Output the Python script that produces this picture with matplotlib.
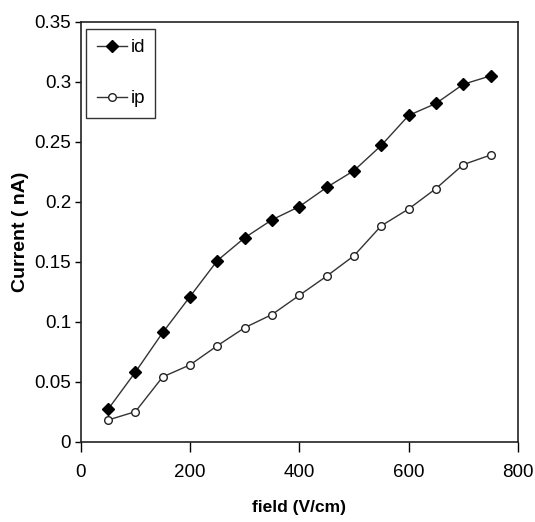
import matplotlib
matplotlib.use("Agg")
import matplotlib.pyplot as plt

# field (V/cm)
field = [50, 100, 150, 200, 250, 300, 350, 400, 450, 500, 550, 600, 650, 700, 750]
# currents (nA)
i_d = [0.027, 0.058, 0.091, 0.121, 0.151, 0.170, 0.185, 0.196, 0.212, 0.226,
       0.247, 0.272, 0.282, 0.298, 0.305]
i_p = [0.018, 0.025, 0.054, 0.064, 0.080, 0.095, 0.106, 0.122, 0.138, 0.155,
       0.180, 0.194, 0.211, 0.231, 0.239]

x_ticks = [0, 200, 400, 600, 800]
y_ticks = [0, 0.05, 0.1, 0.15, 0.2, 0.25, 0.3, 0.35]
y_tick_labels = ["0", "0.05", "0.1", "0.15", "0.2", "0.25", "0.3", "0.35"]

plt.rcParams["font.family"] = ["Liberation Sans", "DejaVu Sans"]

fig = plt.figure(figsize=(5.35, 5.22), dpi=100)
ax = fig.add_axes([0.151, 0.154, 0.817, 0.804])

ax.plot(field, i_d, color="#333333", lw=1.0, marker="D", markersize=6,
        markerfacecolor="black", markeredgecolor="black", label="id")
ax.plot(field, i_p, color="#333333", lw=1.0, marker="o", markersize=5.5,
        markerfacecolor="white", markeredgecolor="#222222", markeredgewidth=1.0,
        label="ip")

ax.set_xlim(0, 800)
ax.set_ylim(0, 0.35)
ax.set_xticks(x_ticks)
ax.set_xticklabels([str(t) for t in x_ticks])
ax.set_yticks(y_ticks)
ax.set_yticklabels(y_tick_labels)
ax.tick_params(axis="x", direction="out", length=7, width=1, labelsize=13.5, pad=9)
ax.tick_params(axis="y", direction="out", length=4, width=1, labelsize=13.5, pad=3)
ax.tick_params(top=False, right=False)

for s in ax.spines.values():
    s.set_linewidth(1.2)
    s.set_color("#222222")

ax.set_xlabel("field (V/cm)", fontsize=12.5, fontweight="bold", labelpad=14)
ax.set_ylabel("Current ( nA)", fontsize=14, fontweight="bold", labelpad=4)

leg = ax.legend(loc="upper left", bbox_to_anchor=(0.013, 0.983), fontsize=13.5,
                frameon=True, fancybox=False, edgecolor="black",
                handlelength=1.6, handletextpad=0.2, labelspacing=1.8,
                borderpad=0.55, borderaxespad=0.0)
leg.get_frame().set_linewidth(1.0)

fig.savefig("out.png", dpi=100)
